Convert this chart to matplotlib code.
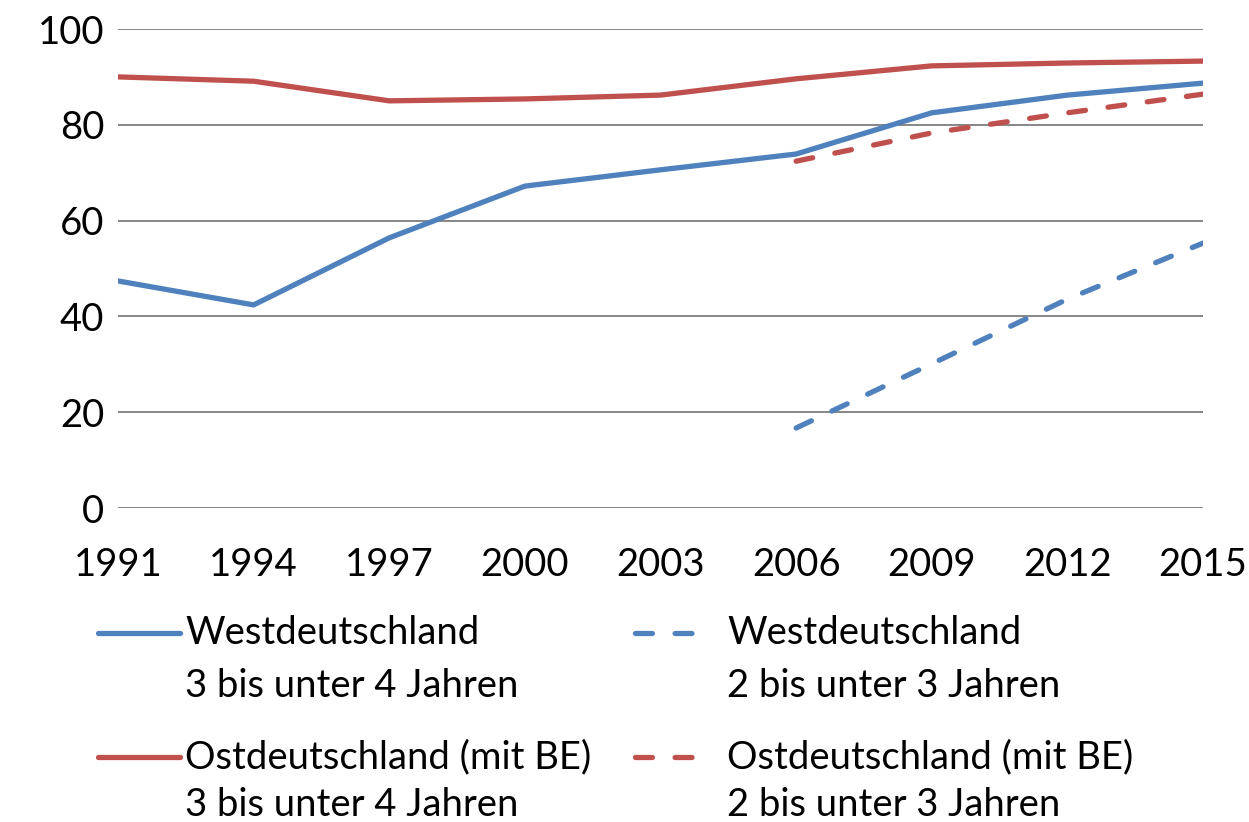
import matplotlib.pyplot as plt
from matplotlib.lines import Line2D

plt.rc('font', family=['Lato', 'DejaVu Sans'])

years = [1991, 1994, 1997, 2000, 2003, 2006, 2009, 2012, 2015]
west_3_4 = [47.4, 42.4, 56.4, 67.2, 70.6, 73.9, 82.5, 86.2, 88.7]
east_3_4 = [90.0, 89.1, 85.0, 85.4, 86.2, 89.6, 92.3, 92.9, 93.3]
years_u3 = [2006, 2009, 2012, 2015]
west_2_3 = [16.7, 30.1, 43.6, 55.3]
east_2_3 = [72.4, 78.3, 82.5, 86.4]

blue = '#4F81BD'
red = '#C0504D'
fs = 27.5
dash = (3.2, 4.3)

fig = plt.figure(figsize=(12.49, 8.22), dpi=100)
ax = fig.add_axes([118/1249, 1 - 508/822, (1203 - 118)/1249, (508 - 29)/822])

for y in range(0, 101, 20):
    ax.axhline(y, color='#868686', lw=1.4, zorder=1)

lw = 3.8
ax.plot(years, west_3_4, color=blue, lw=lw, solid_capstyle='round', zorder=3)
ax.plot(years, east_3_4, color=red, lw=lw, solid_capstyle='round', zorder=3)
ax.plot(years_u3, west_2_3, color=blue, lw=lw, dashes=dash, dash_capstyle='round', zorder=3)
ax.plot(years_u3, east_2_3, color=red, lw=lw, dashes=dash, dash_capstyle='round', zorder=3)

ax.set_xlim(1991, 2015)
ax.set_ylim(0, 100)
ax.set_xticks(years)
ax.set_yticks(range(0, 101, 20))
ax.tick_params(axis='both', length=0, labelsize=fs)
ax.tick_params(axis='x', pad=28)
ax.tick_params(axis='y', pad=10)
for s in ax.spines.values():
    s.set_visible(False)

# legend, drawn by hand so the handle sits on the first text line
entries = [
    (98, 180, 185, 633, 686, blue, '-', 'Westdeutschland', '3 bis unter 4 Jahren'),
    (635, 712, 727, 633, 686, blue, '--', 'Westdeutschland', '2 bis unter 3 Jahren'),
    (98, 180, 185, 757, 805, red, '-', 'Ostdeutschland (mit BE)', '3 bis unter 4 Jahren'),
    (635, 712, 727, 757, 805, red, '--', 'Ostdeutschland (mit BE)', '2 bis unter 3 Jahren'),
]
W, H = 1249, 822
for x0, x1, tx, y1, y2, c, ls, l1, l2 in entries:
    line = Line2D([x0/W, x1/W], [1 - y1/H, 1 - y1/H], color=c, lw=lw,
                  solid_capstyle='round', dash_capstyle='round')
    if ls == '--':
        line.set_dashes(dash)
    fig.add_artist(line)
    fig.text(tx/W, 1 - y1/H, l1, fontsize=fs, va='center', ha='left')
    fig.text(tx/W, 1 - y2/H, l2, fontsize=fs, va='center', ha='left')

fig.savefig('out.png', dpi=100)
